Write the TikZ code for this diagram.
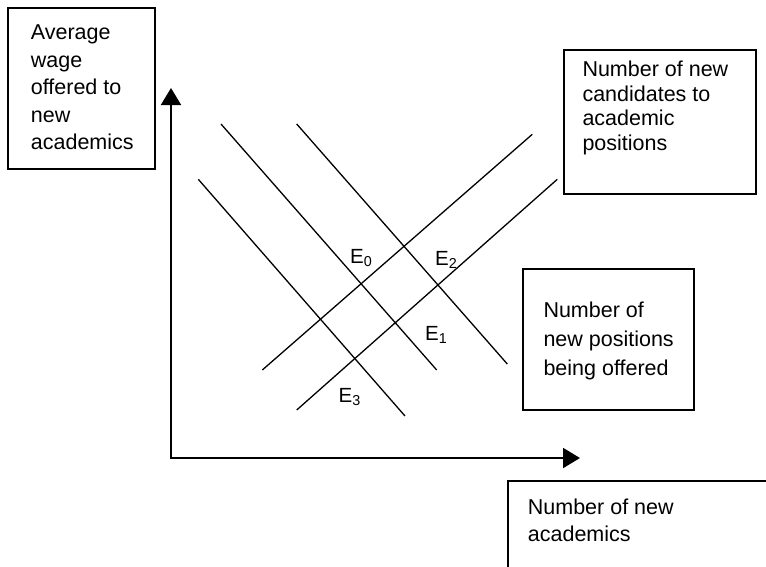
\documentclass[tikz,border=0pt]{standalone}
\usepackage{fontspec}
\setmainfont{Liberation Sans}
\usetikzlibrary{arrows.meta,positioning}

\begin{document}
\begin{tikzpicture}[x=1pt,y=-1pt]
    \tikzstyle{axis}=[line width=2pt,{Triangle[length=17pt,width=20pt]}-{Triangle[length=17pt,width=20pt]}]
    \tikzstyle{curve}=[line width=1.3pt]
    \tikzstyle{box}=[draw,line width=2pt,rectangle,anchor=north west,inner sep=0pt]
    \tikzstyle{boxtext}=[anchor=north west,align=left,inner sep=0pt]
    \tikzstyle{eq}=[anchor=base west,inner sep=0pt,font=\fontsize{20.5}{24}\selectfont]

    \useasboundingbox (0,0) rectangle (766,566);
    \clip (0,0) rectangle (766,566);

    % Draw the two axes from the origin
    \coordinate (O) at (171,458);
    \coordinate (Y) at (171,88);
    \coordinate (X) at (580,458);
    \draw[axis] (Y) -- (O) -- (X);

    % Draw the lines of new positions being offered
    \foreach \name / \xa / \ya / \xb / \yb in {pos-0/198.3/179.3/405/416,
                                              pos-1/221/124/436.7/370,
                                              pos-2/296.7/124/507.3/364}
        \draw[curve] (\xa,\ya) coordinate (\name-a) -- (\xb,\yb) coordinate (\name-b);

    % Draw the lines of new candidates
    \foreach \name / \xa / \ya / \xb / \yb in {cand-0/262.3/370/532.3/134.3,
                                              cand-1/296.7/410/557.3/179.3}
        \draw[curve] (\xa,\ya) coordinate (\name-a) -- (\xb,\yb) coordinate (\name-b);

    % Label the equilibria
    \node[eq] (E0) at (350,263.3) {E\textsubscript{0}};
    \node[eq] (E1) at (425,340) {E\textsubscript{1}};
    \node[eq] (E2) at (435,265) {E\textsubscript{2}};
    \node[eq] (E3) at (338.5,402.7) {E\textsubscript{3}};

    % Draw the boxes with their texts
    \node[box,minimum width=147.6pt,minimum height=161pt] (wagebox) at (6.7,7.3) {};
    \node[boxtext,font=\fontsize{21.5}{27.5}\selectfont]
        (wagetext) at ([xshift=24pt,yshift=-17.5pt]wagebox.north west)
        {Average\\wage\\offered to\\new\\academics};

    \node[box,minimum width=191.7pt,minimum height=144.3pt] (candbox) at (563.3,49) {};
    \node[boxtext,font=\fontsize{21.5}{24.5}\selectfont]
        (candtext) at ([xshift=19pt,yshift=-12pt]candbox.north west)
        {Number of new\\candidates to\\academic\\positions};

    \node[box,minimum width=171.6pt,minimum height=141pt] (posbox) at (521.7,268.3) {};
    \node[boxtext,font=\fontsize{21.5}{29}\selectfont]
        (postext) at ([xshift=21.6pt,yshift=-33.5pt]posbox.north west)
        {Number of\\new positions\\being offered};

    \node[box,minimum width=300pt,minimum height=150pt] (acadbox) at (506.7,480) {};
    \node[boxtext,font=\fontsize{21.5}{27.6}\selectfont]
        (acadtext) at ([xshift=21pt,yshift=-18.5pt]acadbox.north west)
        {Number of new\\academics};
\end{tikzpicture}
\end{document}
